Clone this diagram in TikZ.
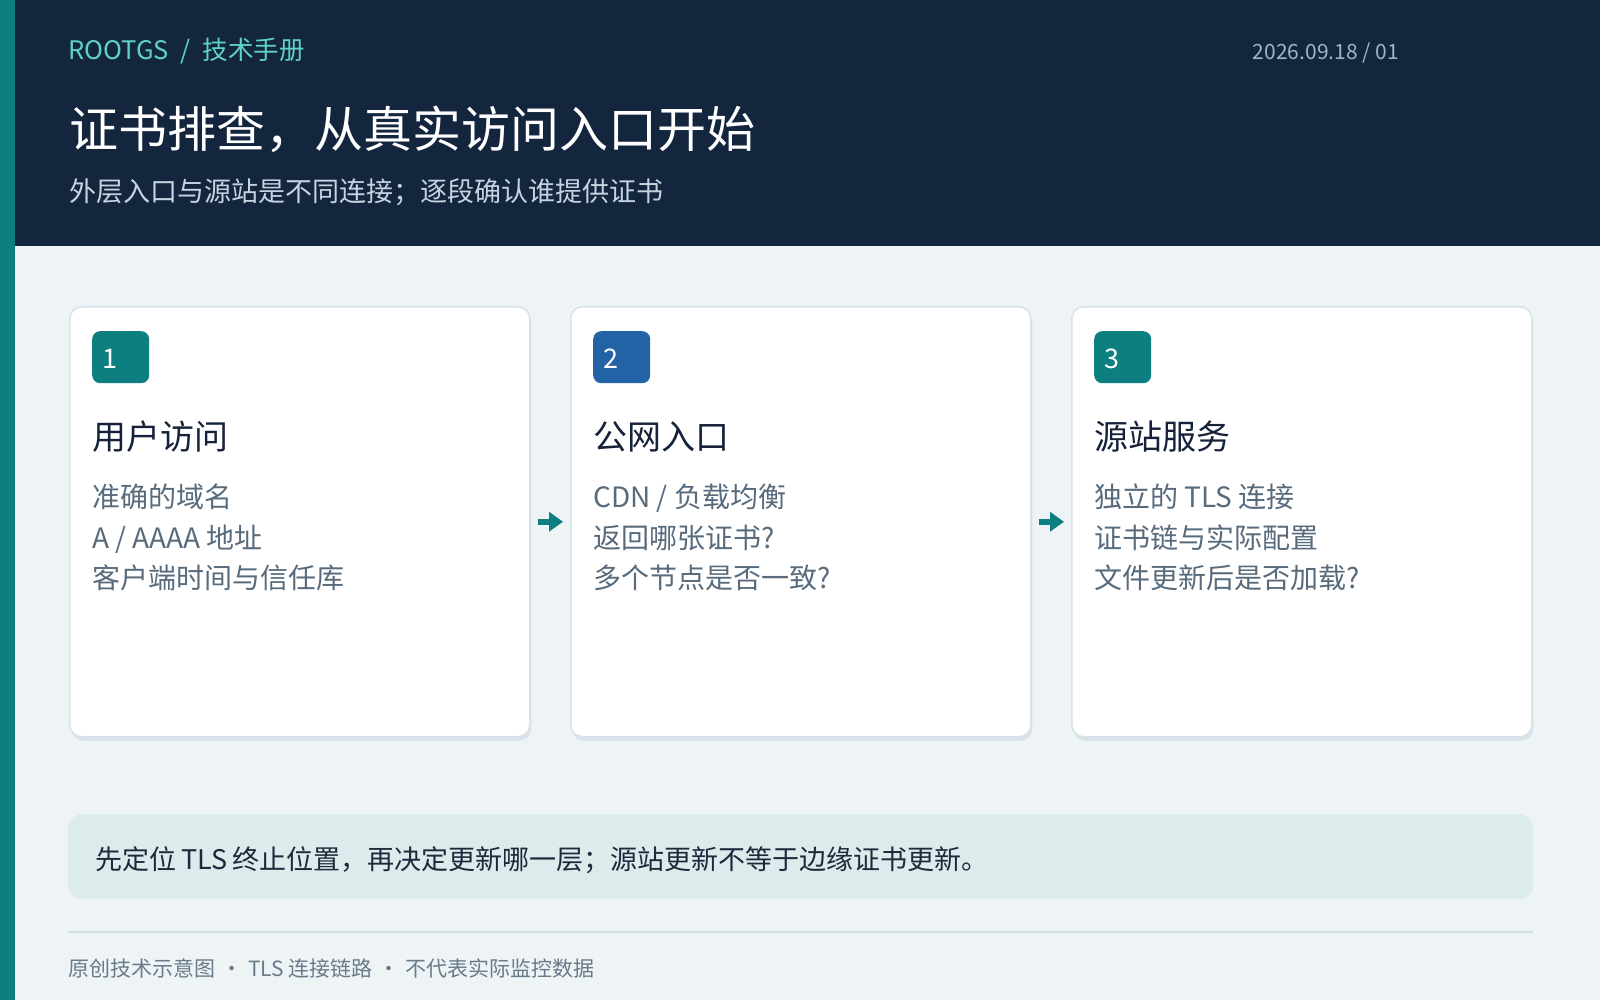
\documentclass[tikz,border=0pt]{standalone}
\usepackage{fontspec}
\setmainfont{Noto Sans CJK SC}
\usetikzlibrary{arrows.meta,shadows}

\definecolor{navy}{HTML}{13263E}
\definecolor{tealc}{HTML}{0E7F80}
\definecolor{bluec}{HTML}{2462A6}
\definecolor{pagebg}{HTML}{EEF3F6}
\definecolor{brand}{HTML}{5FD2C6}
\definecolor{datec}{HTML}{A2B3C7}
\definecolor{subc}{HTML}{C6D4E2}
\definecolor{cardline}{HTML}{D8E2E9}
\definecolor{cardshade}{HTML}{DAE3EA}
\definecolor{titlec}{HTML}{15223A}
\definecolor{bodyc}{HTML}{586B7C}
\definecolor{notefill}{HTML}{DCEBEC}
\definecolor{notec}{HTML}{1C2A3C}
\definecolor{rulec}{HTML}{D3DEE5}
\definecolor{footc}{HTML}{697A89}

\begin{document}
\begin{tikzpicture}[x=1pt,y=-1pt]
\tikzset{card/.style={draw=cardline, line width=1.5pt, fill=white, rounded corners=12pt,
    minimum width=460pt, minimum height=430pt, anchor=north west,
    drop shadow={shadow xshift=1.5pt, shadow yshift=-4pt, fill=cardshade, opacity=1}},
  badge/.style={text=white, rounded corners=8pt, anchor=north west, inner xsep=10pt, inner ysep=0pt,
    text width=37pt, align=left, minimum height=52pt, text height=23.5pt, text depth=0pt,
    font=\fontsize{27}{30}\selectfont},
  ctitle/.style={anchor=west, inner sep=0pt, text=titlec, font=\fontsize{34}{40}\selectfont},
  cbody/.style={anchor=north west, inner sep=0pt, align=left, text=bodyc, font=\fontsize{28}{40.5}\selectfont},
  flow/.style={draw=tealc, line width=5.5pt, -{Triangle[length=14pt,width=19pt]}, shorten <=7pt, shorten >=7pt}}

\useasboundingbox (0,0) rectangle (1600,1000);
\fill[pagebg] (0,0) rectangle (1600,1000);
\fill[navy] (0,0) rectangle (1600,246);
\fill[tealc] (0,0) rectangle (15,1000);

% header
\node[anchor=west, inner sep=0pt, text=brand, font=\fontsize{25.5}{30}\selectfont] (brand) at (68,51) {ROOTGS\hspace{12pt}/\hspace{12pt}技术手册};
\node[anchor=east, inner sep=0pt, text=datec, font=\fontsize{21}{24}\selectfont] (date) at (1399,53) {2026.09.18 / 01};
\node[anchor=west, inner sep=0pt, text=white, font=\fontsize{49}{58}\selectfont] (title) at (69,129) {证书排查，从真实访问入口开始};
\node[anchor=west, inner sep=0pt, text=subc, font=\fontsize{27}{32}\selectfont] (sub) at (69,192) {外层入口与源站是不同连接；逐段确认谁提供证书};

% cards
\node[card] (c1) at (69,306) {};
\node[badge, fill=tealc] (b1) at (92,331) {1};
\node[ctitle] (t1) at (92,437) {用户访问};
\node[cbody] (d1) at (92,484) {准确的域名\\A / AAAA 地址\\客户端时间与信任库};

\node[card] (c2) at (570,306) {};
\node[badge, fill=bluec] (b2) at (593,331) {2};
\node[ctitle] (t2) at (593,437) {公网入口};
\node[cbody] (d2) at (593,484) {CDN / 负载均衡\\返回哪张证书?\\多个节点是否一致?};

\node[card] (c3) at (1071,306) {};
\node[badge, fill=tealc] (b3) at (1094,331) {3};
\node[ctitle] (t3) at (1094,437) {源站服务};
\node[cbody] (d3) at (1094,484) {独立的 TLS 连接\\证书链与实际配置\\文件更新后是否加载?};

\draw[flow] (c1) -- (c2);
\draw[flow] (c2) -- (c3);

% note and footer
\node[anchor=north west, fill=notefill, rounded corners=14pt, minimum height=85pt, inner xsep=27pt,
  text width=1411pt, align=left, text height=26pt, text depth=0pt, text=notec,
  font=\fontsize{27}{32}\selectfont] (note) at (68,814)
  {先定位\hspace{5pt}TLS\hspace{5pt}终止位置，再决定更新哪一层；源站更新不等于边缘证书更新。};
\draw[rulec, line width=2pt] (68,932) -- (1533,932);
\node[anchor=west, inner sep=0pt, text=footc, font=\fontsize{21}{25}\selectfont] (foot) at (68,968)
  {原创技术示意图\hspace{6pt}·\hspace{6pt}TLS 连接链路\hspace{6pt}·\hspace{6pt}不代表实际监控数据};
\end{tikzpicture}
\end{document}
